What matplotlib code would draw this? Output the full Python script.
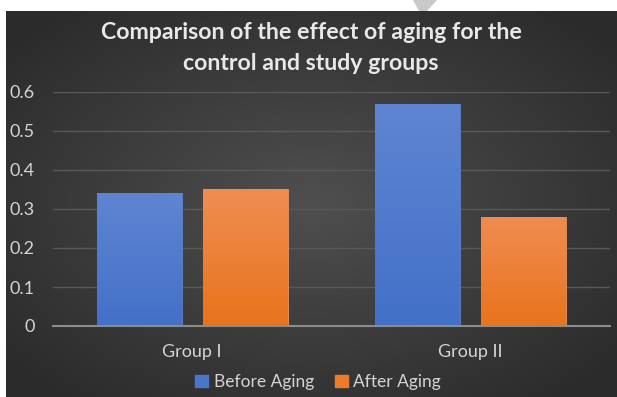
import numpy as np
import matplotlib
matplotlib.use("Agg")
import matplotlib.pyplot as plt
from matplotlib.colors import LinearSegmentedColormap
from matplotlib.patches import Polygon, Rectangle

# Chart data
groups = ["Group I", "Group II"]
series_names = ["Before Aging", "After Aging"]
before_aging = [0.34, 0.57]
after_aging = [0.35, 0.28]
y_ticks = [0, 0.1, 0.2, 0.3, 0.4, 0.5, 0.6]
y_tick_labels = ["0", "0.1", "0.2", "0.3", "0.4", "0.5", "0.6"]
title = "Comparison of the effect of aging for the\ncontrol and study groups"

plt.rcParams["font.family"] = ["Lato", "DejaVu Sans"]

W, H = 617, 397
fig = plt.figure(figsize=(W / 100, H / 100), dpi=100)
fig.patch.set_facecolor("white")

# Dark chart area with a soft radial gradient
bg_left, bg_top = 6, 11
bg = fig.add_axes([bg_left / W, 0, 1 - bg_left / W, 1 - bg_top / H])
bg.set_axis_off()
yy, xx = np.mgrid[-1:1:200j, -1:1:300j]
r = np.sqrt((xx * 0.9) ** 2 + (yy * 0.9) ** 2)
shade = np.clip(0.31 - 0.12 * r, 0.17, 0.31)
bg.imshow(np.dstack([shade, shade, shade]), aspect="auto", extent=[0, 1, 0, 1])
bg.set_xlim(0, 1)
bg.set_ylim(0, 1)

# Faint diagonal stroke in the top margin
fig.patches.append(Polygon(
    [[413 / W, 1], [437 / W, 1], [427 / W, 1 - 11 / H], [419 / W, 1 - 11 / H]],
    closed=True, transform=fig.transFigure, facecolor="#c9c9c9",
    edgecolor="none", zorder=0))

# Plot area
ax_left, ax_right = 53, 610
ax_bottom, ax_top = 326, 92
ax = fig.add_axes([ax_left / W, (H - ax_bottom) / H,
                   (ax_right - ax_left) / W, (ax_bottom - ax_top) / H])
ax.set_facecolor("none")

x = np.arange(len(groups))
width = 0.305
offset = 0.19

blue_cmap = LinearSegmentedColormap.from_list("b", ["#4370c8", "#5f85d2"])
orange_cmap = LinearSegmentedColormap.from_list("o", ["#e8741c", "#f08c52"])

bars_b = ax.bar(x - offset, before_aging, width, color="#4a76c9",
                edgecolor="#5b84d4", linewidth=0.6, label=series_names[0], zorder=2)
bars_a = ax.bar(x + offset, after_aging, width, color="#ec7c2a",
                edgecolor="#f29157", linewidth=0.6, label=series_names[1], zorder=2)

grad = np.linspace(0, 1, 100).reshape(-1, 1)
for bars, cmap in ((bars_b, blue_cmap), (bars_a, orange_cmap)):
    for rect in bars:
        x0 = rect.get_x()
        h = rect.get_height()
        im = ax.imshow(grad, cmap=cmap, origin="lower", aspect="auto",
                       extent=[x0, x0 + rect.get_width(), 0, h], zorder=2.5)
        im.set_clip_path(rect)

ax.set_xlim(-0.5, 1.5)
ax.set_ylim(0, 0.6)

ax.set_yticks(y_ticks)
ax.set_yticklabels(y_tick_labels)
ax.set_xticks(x)
ax.set_xticklabels(groups)
ax.grid(axis="y", color="#595959", linewidth=1.0, zorder=0)
ax.set_axisbelow(True)

for s in ("top", "right", "left"):
    ax.spines[s].set_visible(False)
ax.spines["bottom"].set_color("#8c8c8c")
ax.spines["bottom"].set_linewidth(1.5)
ax.spines["bottom"].set_zorder(3)

ax.tick_params(axis="y", length=0, pad=13, labelsize=13, labelcolor="#d4d4d4")
ax.tick_params(axis="x", length=0, pad=13, labelsize=13, labelcolor="#d4d4d4")

fig.text(311 / W, 1 - 48 / H, title, ha="center", va="center",
         fontsize=16.7, fontweight="bold", color="#e8e8e8", linespacing=1.55)

handles = [Rectangle((0, 0), 1, 1, color="#4a76c9"),
           Rectangle((0, 0), 1, 1, color="#ec7c2a")]
leg = fig.legend(handles, series_names, loc="center",
                 bbox_to_anchor=(318 / W, 1 - 382 / H), ncol=2, frameon=False,
                 fontsize=12.5, handlelength=0.75, handleheight=0.75,
                 handletextpad=0.3, columnspacing=1.2)
for t in leg.get_texts():
    t.set_color("#d4d4d4")

fig.savefig("out.png", dpi=100, facecolor=fig.get_facecolor())
